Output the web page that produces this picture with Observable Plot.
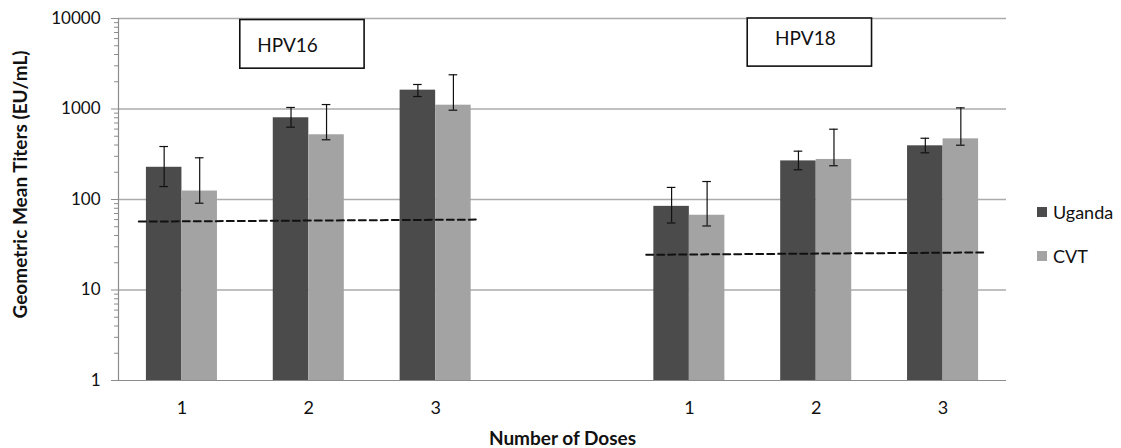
<!DOCTYPE html>
<html>
<head>
<meta charset="utf-8">
<script src="https://cdn.jsdelivr.net/npm/d3@7"></script>
<script src="https://cdn.jsdelivr.net/npm/@observablehq/plot@0.6"></script>
<style>
  html, body { margin: 0; padding: 0; background: #fff; }
  #wrap { position: relative; width: 1121px; height: 448px; font-family: Lato, "Open Sans", sans-serif; }
  #legend { position: absolute; left: 1037px; top: 201px; font-size: 18px; color: #111; }
  .item { display: flex; align-items: center; height: 22px; margin-bottom: 22px; }
  .sw { width: 10px; height: 10px; margin-right: 6px; }
</style>
</head>
<body>
<div id="wrap"><div id="legend"></div></div>
<script>
// ---- data ----
const groups = ["HPV16", "HPV18"];
const doses = ["1", "2", "3"];
const series = ["Uganda", "CVT"];
const seriesColors = ["#4b4b4b", "#a3a3a3"];

// HPV16
const uganda16 = [227, 800, 1615];
const uganda16Lo = [139, 630, 1374];
const uganda16Hi = [385, 1040, 1866];
const cvt16 = [124, 519, 1102];
const cvt16Lo = [91, 457, 970];
const cvt16Hi = [289, 1120, 2388];
// HPV18
const uganda18 = [84, 267, 392];
const uganda18Lo = [55, 213, 328];
const uganda18Hi = [136, 342, 475];
const cvt18 = [67, 277, 468];
const cvt18Lo = [51, 236, 398];
const cvt18Hi = [158, 598, 1030];

// dashed reference lines (start, end)
const cutoff16 = [57, 60];
const cutoff18 = [24.5, 26];

const yTicks = [1, 10, 100, 1000, 10000];
const yLabel = "Geometric Mean Titers (EU/mL)";
const xLabel = "Number of Doses";

// ---- build tables ----
const values = {
  HPV16: {Uganda: [uganda16, uganda16Lo, uganda16Hi], CVT: [cvt16, cvt16Lo, cvt16Hi]},
  HPV18: {Uganda: [uganda18, uganda18Lo, uganda18Hi], CVT: [cvt18, cvt18Lo, cvt18Hi]}
};
const cutoffs = {HPV16: cutoff16, HPV18: cutoff18};
const W = 0.28; // half pair width in slot units
const rows = [];
const doseRows = [];
groups.forEach((g, gi) => {
  doses.forEach((d, di) => {
    const center = gi * 4 + di + 0.5;
    doseRows.push({group: g, dose: d, center});
    series.forEach((s, si) => {
      const [v, lo, hi] = values[g][s];
      rows.push({group: g, dose: d, series: s, value: v[di], lo: lo[di], hi: hi[di],
        x1: si === 0 ? center - W : center, x2: si === 0 ? center : center + W,
        xc: si === 0 ? center - W / 2 : center + W / 2});
    });
  });
});
const groupRows = groups.map((g, gi) => ({group: g, gi, center: gi * 4 + 1.5}));
const lineRows = [];
groups.forEach((g, gi) => {
  lineRows.push({group: g, x: gi * 4 + 0.5 - 0.34, y: cutoffs[g][0]});
  lineRows.push({group: g, x: gi * 4 + 2.5 + 0.33, y: cutoffs[g][1]});
});
const minorTicks = [];
for (const dec of [1, 10, 100, 1000]) for (let k = 2; k <= 9; k++) minorTicks.push(dec * k);

const cap = 0.034;
const chart = Plot.plot({
  width: 1121, height: 448,
  marginLeft: 118, marginRight: 115, marginTop: 18, marginBottom: 68,
  x: {domain: [0, 7], axis: null},
  y: {type: "log", domain: [1, 10000], axis: null},
  color: {domain: series, range: seriesColors},
  style: {fontFamily: "Lato, 'Open Sans', sans-serif", fontSize: "17px", color: "#111", background: "#fff"},
  marks: [
    Plot.ruleY([10, 100, 1000, 10000], {stroke: "#ababab", strokeWidth: 1.3}),
    Plot.rectY(rows, {x1: "x1", x2: "x2", y1: 1, y2: "value", fill: "series"}),
    Plot.ruleX(rows, {x: "xc", y1: "lo", y2: "hi", stroke: "#111", strokeWidth: 1.2}),
    Plot.ruleY(rows, {y: "lo", x1: d => d.xc - cap, x2: d => d.xc + cap, stroke: "#111", strokeWidth: 1.2}),
    Plot.ruleY(rows, {y: "hi", x1: d => d.xc - cap, x2: d => d.xc + cap, stroke: "#111", strokeWidth: 1.2}),
    Plot.line(lineRows, {x: "x", y: "y", z: "group", stroke: "#111", strokeWidth: 2, strokeDasharray: "7,4"}),
    Plot.ruleX([0], {stroke: "#8c8c8c", strokeWidth: 1.2}),
    Plot.ruleY([1], {stroke: "#8c8c8c", strokeWidth: 1.2}),
    Plot.axisY(yTicks, {tickSize: 7, tickPadding: 11, tickFormat: d => String(d), stroke: "#8c8c8c", fill: "#111", fontSize: 17}),
    Plot.axisY(minorTicks, {tickSize: 4, tickFormat: () => "", stroke: "#8c8c8c"}),
    Plot.text(doseRows, {x: "center", frameAnchor: "bottom", dy: 27.5, lineAnchor: "middle", text: "dose", fill: "#111", fontSize: 18}),
    Plot.text([xLabel], {frameAnchor: "bottom", dy: 58, lineAnchor: "middle", text: d => d, fontWeight: "bold", fontSize: 19, fill: "#111"}),
    Plot.text([yLabel], {frameAnchor: "left", rotate: -90, dx: -98, dy: -15, textAnchor: "middle", lineAnchor: "middle", text: d => d, fontWeight: "bold", fontSize: 19, fill: "#111"}),
    Plot.rect(groupRows, {x1: d => d.center - 0.54, x2: d => d.center + 0.44, y1: d => d.gi === 0 ? 2790 : 2940, y2: d => d.gi === 0 ? 9620 : 10000, fill: "#fff", stroke: "#111", strokeWidth: 1.6}),
    Plot.text(groupRows, {x: d => d.center - (d.gi === 0 ? 0.168 : 0.085), y: d => d.gi === 0 ? 5030 : 5970, text: "group", fontSize: 19, fill: "#111", lineAnchor: "middle"})
  ]
});
const wrap = document.getElementById("wrap");
wrap.insertBefore(chart, wrap.firstChild);

const legend = document.getElementById("legend");
series.forEach((s, i) => {
  const it = document.createElement("div");
  it.className = "item";
  const sw = document.createElement("span");
  sw.className = "sw";
  sw.style.background = seriesColors[i];
  const t = document.createElement("span");
  t.textContent = s;
  it.appendChild(sw); it.appendChild(t);
  legend.appendChild(it);
});
</script>
</body>
</html>
